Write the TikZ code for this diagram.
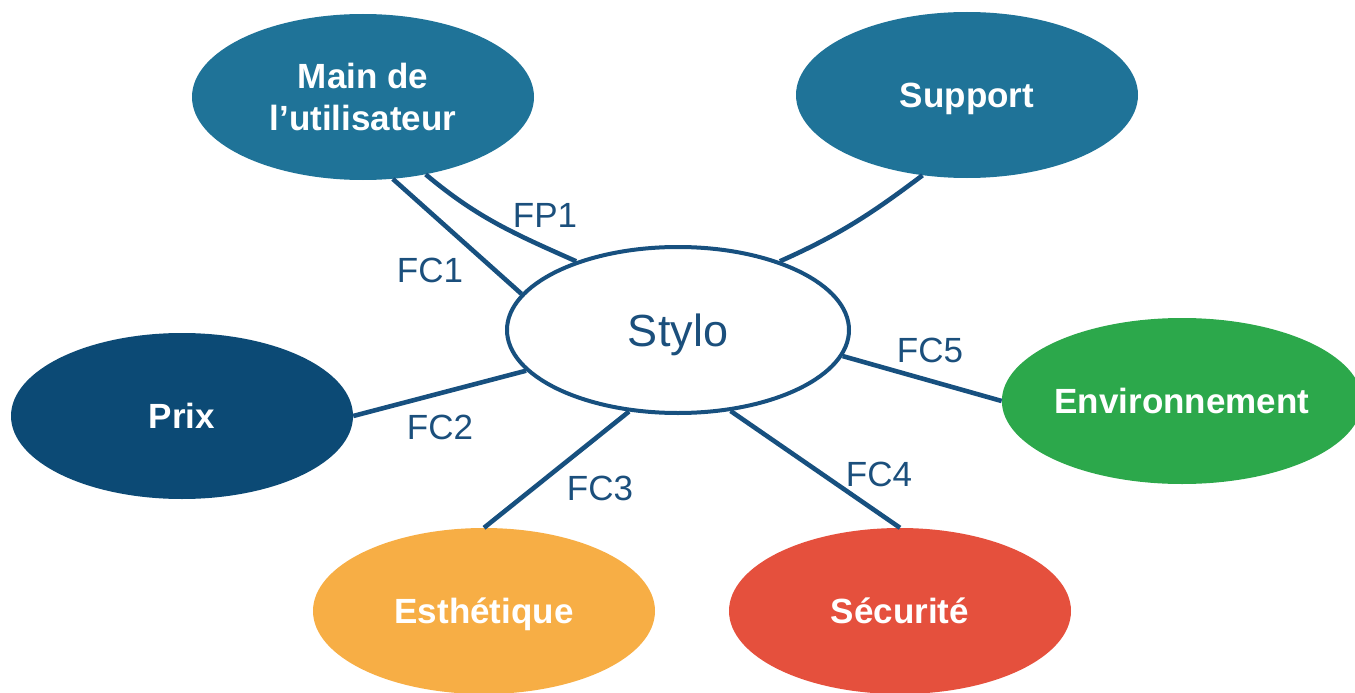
\documentclass[tikz,border=0pt]{standalone}
\usepackage{fontspec}
\setmainfont{Liberation Sans}
\usetikzlibrary{shapes.geometric}
\definecolor{cteal}{HTML}{1F7398}
\definecolor{cnavy}{HTML}{0C4A75}
\definecolor{cgreen}{HTML}{2CA84B}
\definecolor{corange}{HTML}{F7AE45}
\definecolor{cred}{HTML}{E5503D}
\definecolor{cline}{HTML}{17507F}
\definecolor{ctext}{HTML}{1B4F7C}
\begin{document}
\begin{tikzpicture}[x=1pt,y=-1pt,
  bubble/.style={ellipse, minimum width=342pt, minimum height=166pt, inner sep=0pt,
    text=white, font=\fontsize{35}{42}\selectfont\bfseries, align=center},
  link/.style={draw=cline, line width=4.6pt},
  lbl/.style={text=ctext, font=\fontsize{35}{42}\selectfont, inner sep=0pt}]
\useasboundingbox (0,0) rectangle (1355,693);
\node[bubble, fill=cteal] (main) at (363,97) {Main de\\l’utilisateur};
\node[bubble, fill=cteal, text depth=0pt] (support) at (967,95) {Support};
\node[bubble, fill=cnavy] (prix) at (182,416) {Prix};
\node[bubble, fill=cgreen] (env) at (1182,401) {Environnement};
\node[bubble, fill=corange, text depth=0pt] (esth) at (484,611) {Esthétique};
\node[bubble, fill=cred] (secu) at (900,611) {Sécurité};
\node[ellipse, draw=cline, line width=4pt, fill=white, minimum width=342pt,
  minimum height=166pt, inner sep=0pt, text=ctext,
  font=\fontsize{45}{54}\selectfont, text depth=0pt] (stylo) at (678,330) {Stylo};
\draw[link] (main.-70) -- (stylo.167.7);
\draw[link] (main.-51) to[out=-40,in=156] (stylo.146.6);
\draw[link] (support.-119) to[out=-143,in=24] (stylo.34.5);
\draw[link] (prix.east) -- (stylo.195.7);
\draw[link] (env.west) -- (stylo.-9.7);
\draw[link] (esth.north) -- (stylo.239.5);
\draw[link] (secu.north) -- (stylo.303.5);
\node[lbl] (lfp1) at (545,215) {FP1};
\node[lbl] (lfc1) at (430,270) {FC1};
\node[lbl] (lfc2) at (440,427) {FC2};
\node[lbl] (lfc3) at (600,488) {FC3};
\node[lbl] (lfc4) at (879,474) {FC4};
\node[lbl] (lfc5) at (930,350) {FC5};
\end{tikzpicture}
\end{document}
